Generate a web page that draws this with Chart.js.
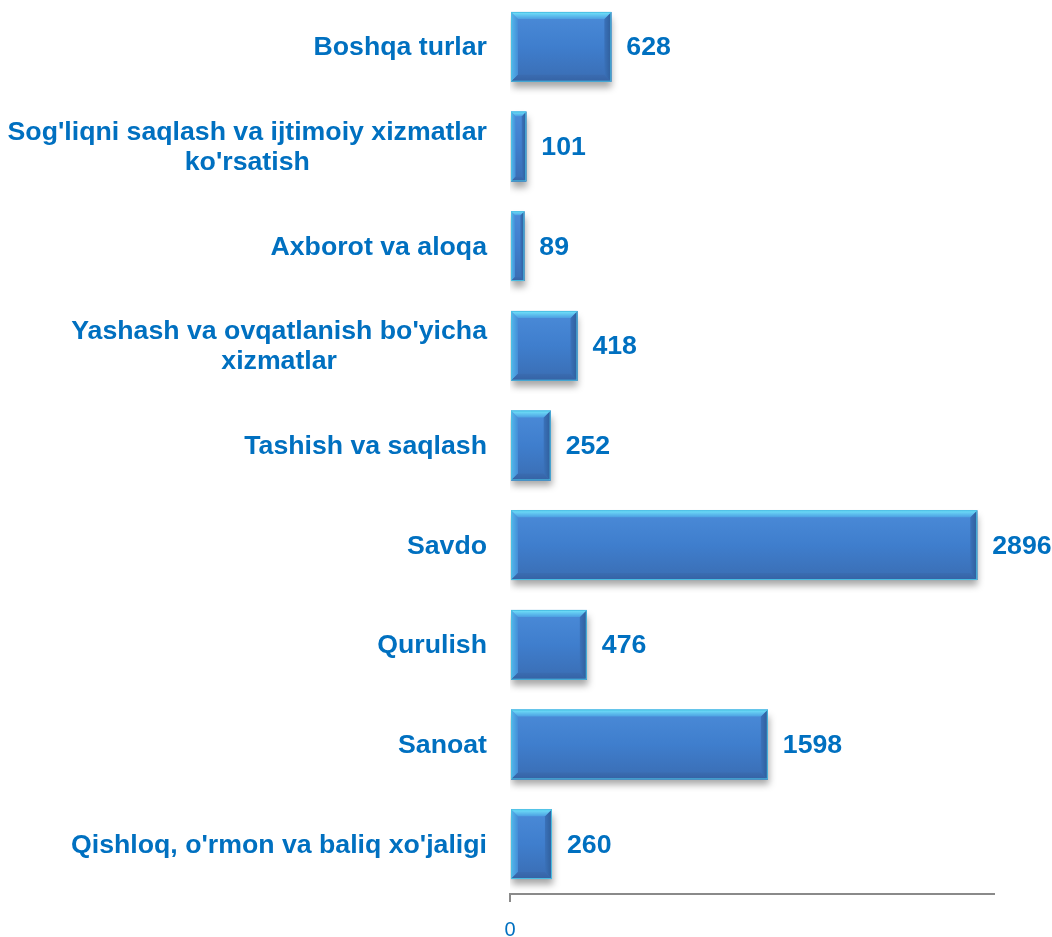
<!DOCTYPE html>
<html><head><meta charset="utf-8">
<script src="https://cdn.jsdelivr.net/npm/chart.js@4.4.0/dist/chart.umd.min.js"></script>
<style>
html,body{margin:0;padding:0;background:#fff;overflow:hidden;width:1052px;height:937px;font-family:"Liberation Sans",Arial,sans-serif;}
#wrap{position:absolute;left:0;top:-3px;width:1052px;height:940px;}
</style></head><body>
<div id="wrap"><canvas id="c"></canvas></div>
<script>
const categories = [
  ["Boshqa turlar"],
  ["Sog'liqni saqlash va ijtimoiy xizmatlar", "ko'rsatish"],
  ["Axborot va aloqa"],
  ["Yashash va ovqatlanish bo'yicha", "xizmatlar"],
  ["Tashish va saqlash"],
  ["Savdo"],
  ["Qurulish"],
  ["Sanoat"],
  ["Qishloq, o'rmon va baliq xo'jaligi"]
];
const values = [628, 101, 89, 418, 252, 2896, 476, 1598, 260];
const axisMin = 0;
const axisMax = 3000;
const tickValues = [0];

const FONT = '"Liberation Sans", Arial, Helvetica, sans-serif';
const BLUE = '#0070C0';

const bevelPlugin = {
  id: 'bevel',
  beforeDatasetsDraw(chart) {
    const c = chart.ctx;
    c.save();
    c.shadowColor = 'rgba(0,0,0,0.35)';
    c.shadowBlur = 7;
    c.shadowOffsetX = 1;
    c.shadowOffsetY = 6;
  },
  afterDatasetsDraw(chart) {
    const c = chart.ctx;
    c.restore();
    const meta = chart.getDatasetMeta(0);
    meta.data.forEach(el => {
      const L = Math.min(el.base, el.x), R = Math.max(el.base, el.x);
      const T = el.y - el.height / 2, B = el.y + el.height / 2;
      const b = Math.min(7, (R - L) * 0.3, (B - T) / 2);
      c.save();
      let g = c.createLinearGradient(0, T, 0, B);
      g.addColorStop(0, '#4b8bd8'); g.addColorStop(0.5, '#3f7ecd'); g.addColorStop(1, '#3a6db3');
      c.fillStyle = g; c.fillRect(L, T, R - L, B - T);
      const poly = (pts, fill) => { c.beginPath(); c.moveTo(pts[0][0], pts[0][1]); for (let i = 1; i < pts.length; i++) c.lineTo(pts[i][0], pts[i][1]); c.closePath(); c.fillStyle = fill; c.fill(); };
      g = c.createLinearGradient(L, 0, L + b, 0);
      g.addColorStop(0, '#55b9ec'); g.addColorStop(1, '#448ed7');
      poly([[L, T], [L + b, T + b], [L + b, B - b], [L, B]], g);
      g = c.createLinearGradient(R - b, 0, R, 0);
      g.addColorStop(0, '#3a72ba'); g.addColorStop(1, '#2f5d9a');
      poly([[R, T], [R, B], [R - b, B - b], [R - b, T + b]], g);
      g = c.createLinearGradient(0, B - b, 0, B);
      g.addColorStop(0, '#3a6cb1'); g.addColorStop(1, '#3562a4');
      poly([[L, B], [R, B], [R - b, B - b], [L + b, B - b]], g);
      g = c.createLinearGradient(0, T, 0, T + b);
      g.addColorStop(0, '#72e6fb'); g.addColorStop(1, '#4c9fe2');
      poly([[L, T], [R, T], [R - b, T + b], [L + b, T + b]], g);
      c.strokeStyle = '#4cc0e4'; c.lineWidth = 1;
      c.strokeRect(L + 0.5, T + 0.5, R - L - 1, B - T - 1);
      c.restore();
    });
  },
  afterDraw(chart) {
    const c = chart.ctx;
    const ys = chart.scales.y;
    const area = chart.chartArea;
    const meta = chart.getDatasetMeta(0);
    c.save();
    c.font = 'bold 26.7px ' + FONT;
    c.fillStyle = BLUE;
    c.textBaseline = 'middle';
    const lh = 30;
    categories.forEach((lines, i) => {
      const yc = ys.getPixelForValue(i) + 1;
      const widths = lines.map(t => c.measureText(t).width);
      const maxW = Math.max(...widths);
      const cx = area.left - 23 - maxW / 2;
      c.textAlign = 'center';
      lines.forEach((t, k) => {
        const y = yc + (k - (lines.length - 1) / 2) * lh;
        c.fillText(t, cx, y);
      });
    });
    c.textAlign = 'left';
    meta.data.forEach((el, i) => {
      c.fillText(String(values[i]), Math.max(el.x, el.base) + 15, el.y + 1);
    });
    c.restore();
  }
};

Chart.defaults.font.family = FONT;
new Chart(document.getElementById('c'), {
  type: 'bar',
  data: {
    labels: categories,
    datasets: [{
      data: values,
      backgroundColor: '#3f7ecd',
      borderWidth: 0,
      barPercentage: 0.7,
      categoryPercentage: 1.0
    }]
  },
  options: {
    indexAxis: 'y',
    responsive: true,
    maintainAspectRatio: false,
    animation: false,
    events: [],
    layout: { padding: { left: 510, right: 58, top: 0, bottom: 0 } },
    plugins: { legend: { display: false }, tooltip: { enabled: false } },
    scales: {
      y: { display: false },
      x: {
        min: axisMin, max: axisMax,
        afterBuildTicks: s => { s.ticks = tickValues.map(v => ({ value: v })); },
        afterFit: s => { s.height = 43; },
        grid: { drawOnChartArea: false, drawTicks: true, tickLength: 8, color: '#8a8a8a', lineWidth: 2 },
        border: { display: true, color: '#8a8a8a', width: 2 },
        ticks: { color: BLUE, font: { size: 20, family: FONT }, padding: 16, maxRotation: 0 }
      }
    }
  },
  plugins: [bevelPlugin]
});
</script>
</body></html>
